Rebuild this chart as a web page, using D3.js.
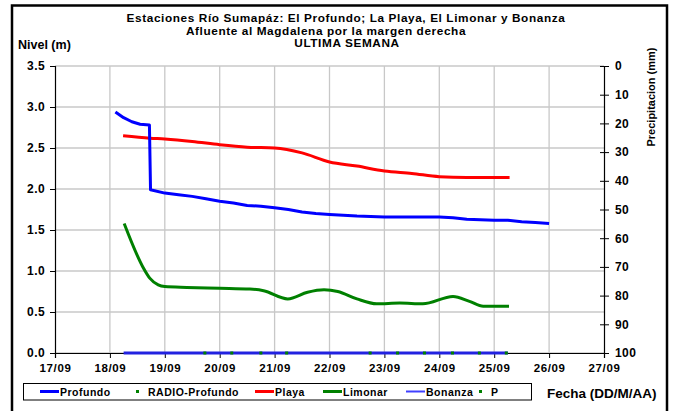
<!DOCTYPE html>
<html>
<head>
<meta charset="utf-8">
<script src="https://cdn.jsdelivr.net/npm/d3@7"></script>
<style>
  body { margin: 0; background: #fff; }
  svg text { font-family: Arial, "Liberation Sans", sans-serif; font-weight: bold; fill: #000; }
</style>
</head>
<body>
<svg id="chart" width="674" height="411"></svg>
<script>
// Datos (dia de septiembre, nivel en m)
var profundoDia = [18.10, 18.25, 18.40, 18.55, 18.72, 18.74, 19.00, 19.25, 19.50, 19.75, 20.00, 20.25, 20.50, 20.75, 21.00, 21.25, 21.50, 21.75, 22.00, 22.25, 22.50, 23.00, 23.50, 24.00, 24.25, 24.50, 25.00, 25.25, 25.50, 25.75, 26.00];
var profundoNivel = [2.94, 2.87, 2.82, 2.79, 2.78, 1.99, 1.95, 1.93, 1.91, 1.88, 1.85, 1.83, 1.80, 1.79, 1.77, 1.75, 1.72, 1.70, 1.69, 1.68, 1.67, 1.66, 1.66, 1.66, 1.65, 1.63, 1.62, 1.62, 1.60, 1.59, 1.58];

var playaDia = [18.24, 18.73, 19.00, 19.50, 20.00, 20.50, 21.00, 21.50, 22.00, 22.50, 23.00, 23.50, 24.00, 24.50, 25.00, 25.28];
var playaNivel = [2.65, 2.62, 2.61, 2.58, 2.54, 2.51, 2.50, 2.44, 2.33, 2.28, 2.22, 2.19, 2.15, 2.14, 2.14, 2.14];

var limonarDia = [18.26, 18.60, 18.73, 18.88, 19.00, 19.40, 20.00, 20.55, 20.80, 21.24, 21.60, 21.90, 22.15, 22.50, 22.86, 23.28, 23.70, 24.25, 24.55, 24.80, 25.27];
var limonarNivel = [1.58, 1.05, 0.91, 0.83, 0.81, 0.80, 0.79, 0.78, 0.76, 0.66, 0.74, 0.77, 0.75, 0.66, 0.60, 0.61, 0.60, 0.69, 0.63, 0.57, 0.57];

var bonanzaDia = [18.25, 25.25];
var bonanzaNivel = [0, 0];

var pDia = [19.73, 20.22, 20.75, 21.22, 22.74, 23.24, 23.73, 24.24, 24.73, 25.22];
var pValor = [0, 0, 0, 0, 0, 0, 0, 0, 0, 0];

var diasTicks = [17, 18, 19, 20, 21, 22, 23, 24, 25, 26, 27];
var nivelTicks = [0, 0.5, 1, 1.5, 2, 2.5, 3, 3.5];
var precipTicks = [0, 10, 20, 30, 40, 50, 60, 70, 80, 90, 100];

var titulo = ["Estaciones Río Sumapáz: El Profundo; La Playa, El Limonar y Bonanza",
              "Afluente al Magdalena por la margen derecha",
              "ULTIMA SEMANA"];

var leyendaNombres = ["Profundo", "RADIO-Profundo", "Playa", "Limonar", "Bonanza", "P"];
var leyendaTipos = ["line", "dot", "line", "line", "line", "dot"];
var leyendaColores = ["#0000ff", "#008000", "#ff0000", "#008000", "#4040ff", "#008000"];

var svg = d3.select("#chart");

var x = d3.scaleLinear().domain([17, 27]).range([55, 604]);
var y = d3.scaleLinear().domain([0, 3.5]).range([353, 66]);
var yP = d3.scaleLinear().domain([0, 100]).range([66, 353]);

// marco exterior
svg.append("rect")
  .attr("x", 12).attr("y", 5.5)
  .attr("width", 655).attr("height", 410)
  .attr("fill", "none").attr("stroke", "#000").attr("stroke-width", 2.5);

// rejilla
svg.append("g").selectAll("line")
  .data(nivelTicks)
  .join("line")
  .attr("x1", 55).attr("x2", 604)
  .attr("y1", d => y(d)).attr("y2", d => y(d))
  .attr("stroke", "#c8c8c8").attr("stroke-width", 1.3);

svg.append("g").selectAll("line")
  .data(diasTicks.slice(1, -1))
  .join("line")
  .attr("x1", d => x(d)).attr("x2", d => x(d))
  .attr("y1", 66).attr("y2", 353)
  .attr("stroke", "#c8c8c8").attr("stroke-width", 1.3);

// ejes
var ejeX = svg.append("g")
  .attr("transform", "translate(0,353)")
  .call(d3.axisBottom(x).tickValues(diasTicks).tickSize(5).tickPadding(6)
    .tickFormat(d => d3.format("02")(d) + "/09"));

var ejeY = svg.append("g")
  .attr("transform", "translate(55,0)")
  .call(d3.axisLeft(y).tickValues(nivelTicks).tickSize(5).tickPadding(5)
    .tickFormat(d3.format(".1f")));

var ejeP = svg.append("g")
  .attr("transform", "translate(604,0)")
  .call(d3.axisRight(yP).tickValues(precipTicks).tickSize(5).tickPadding(6));

svg.append("g")
  .attr("transform", "translate(604,0)")
  .call(d3.axisLeft(yP).tickValues(precipTicks).tickSize(4).tickFormat(""))
  .select(".domain").remove();

[ejeX, ejeY, ejeP].forEach(function (g) {
  g.select(".domain").attr("stroke", "#000").attr("stroke-width", 1.2);
  g.selectAll(".tick line").attr("stroke", "#000");
  g.selectAll("text").attr("font-size", 12).attr("letter-spacing", 0.4);
});
ejeX.selectAll("text").attr("font-size", 11.5).attr("letter-spacing", 0.6);

// series
var linea = d3.line().x(d => x(d[0])).y(d => y(d[1]));
var lineaSuave = d3.line().x(d => x(d[0])).y(d => y(d[1])).curve(d3.curveMonotoneX);

svg.append("path")
  .datum(d3.zip(bonanzaDia, bonanzaNivel))
  .attr("d", linea)
  .attr("fill", "none").attr("stroke", "#2222e0").attr("stroke-width", 3);

svg.append("path")
  .datum(d3.zip(playaDia, playaNivel))
  .attr("d", lineaSuave)
  .attr("fill", "none").attr("stroke", "#ff0000").attr("stroke-width", 3);

svg.append("path")
  .datum(d3.zip(limonarDia, limonarNivel))
  .attr("d", lineaSuave)
  .attr("fill", "none").attr("stroke", "#008000").attr("stroke-width", 3);

svg.append("path")
  .datum(d3.zip(profundoDia, profundoNivel))
  .attr("d", linea)
  .attr("fill", "none").attr("stroke", "#0000ff").attr("stroke-width", 3)
  .attr("stroke-linejoin", "round");

svg.append("g").selectAll("rect")
  .data(d3.zip(pDia, pValor))
  .join("rect")
  .attr("x", d => x(d[0]) - 1.5).attr("y", d => y(d[1]) - 1.5)
  .attr("width", 3).attr("height", 3)
  .attr("fill", "#008000");

// titulos
svg.append("g").selectAll("text")
  .data(titulo)
  .join("text")
  .attr("x", (d, i) => [346, 326, 347][i])
  .attr("y", (d, i) => 22 + i * 12.6)
  .attr("text-anchor", "middle")
  .attr("font-size", 11.8)
  .attr("letter-spacing", 0.6)
  .text(d => d);

svg.append("text")
  .attr("x", 18).attr("y", 49)
  .attr("font-size", 12.5)
  .text("Nivel (m)");

svg.append("text")
  .attr("transform", "translate(655,97) rotate(-90)")
  .attr("text-anchor", "middle")
  .attr("font-size", 11)
  .text("Precipitacion (mm)");

svg.append("text")
  .attr("x", 547).attr("y", 398)
  .attr("font-size", 13.5)
  .text("Fecha (DD/M/AA)");

// leyenda
svg.append("rect")
  .attr("x", 23.5).attr("y", 383.5)
  .attr("width", 508).attr("height", 16.5)
  .attr("fill", "#fff").attr("stroke", "#000").attr("stroke-width", 1);

var leyendaX = [40, 130, 255, 323, 406, 473];
var item = svg.append("g").selectAll("g")
  .data(leyendaNombres)
  .join("g")
  .attr("transform", (d, i) => "translate(" + leyendaX[i] + ",391.5)");

item.filter((d, i) => leyendaTipos[i] === "line")
  .append("line")
  .attr("x1", 0).attr("x2", 19)
  .attr("stroke", d => leyendaColores[leyendaNombres.indexOf(d)])
  .attr("stroke-width", (d) => d === "Bonanza" ? 2 : 3);

item.filter((d, i) => leyendaTipos[i] === "dot")
  .append("rect")
  .attr("x", 6).attr("y", -1.5).attr("width", 3).attr("height", 3)
  .attr("fill", "#008000");

item.append("text")
  .attr("x", (d, i) => leyendaTipos[i] === "line" ? 20 : 18)
  .attr("y", 4)
  .attr("font-size", 10.5)
  .attr("letter-spacing", 0.5)
  .text(d => d);
</script>
</body>
</html>
